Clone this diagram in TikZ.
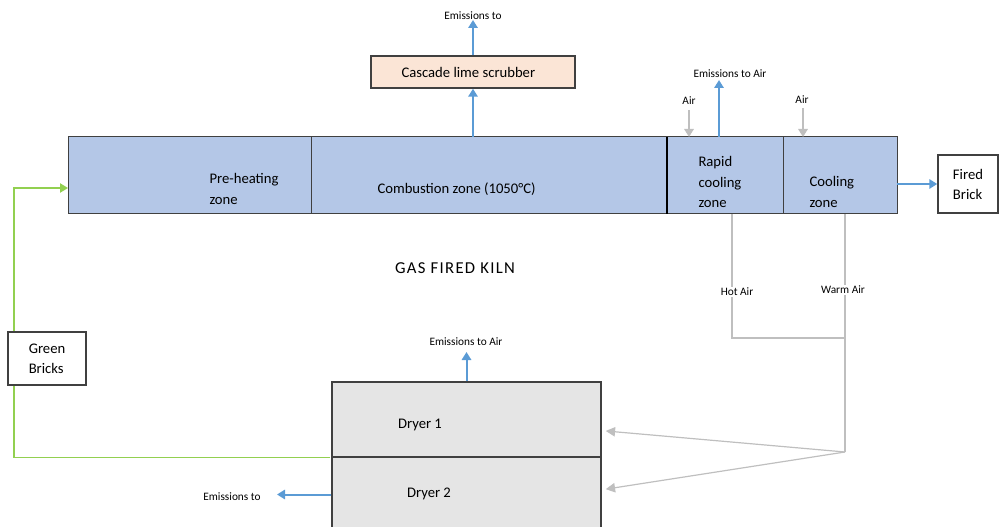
\documentclass[tikz,border=0pt]{standalone}
\usepackage{fontspec}
\setmainfont{Carlito}
\usetikzlibrary{arrows.meta}

\definecolor{kilnblue}{RGB}{180,199,231}
\definecolor{scrubpeach}{RGB}{251,229,214}
\definecolor{dryergray}{RGB}{229,229,229}
\definecolor{emitblue}{RGB}{91,155,213}
\definecolor{airgray}{RGB}{191,191,191}
\definecolor{feedgreen}{RGB}{146,208,80}
\definecolor{edgegray}{RGB}{64,64,64}

\tikzset{every picture/.style={line width=0.75pt}}
\tikzset{
  zone/.style={draw=edgegray, fill=kilnblue, minimum height=57.75pt, inner sep=0pt, outer sep=0pt},
  procbox/.style={draw=edgegray, line width=1.1pt, inner sep=0.75pt, align=left, font=\fontsize{11}{15}\selectfont},
  zonetext/.style={inner sep=0.75pt, anchor=west, align=left, font=\fontsize{11}{15.5}\selectfont},
  smalltext/.style={inner sep=0.75pt, font=\fontsize{8.5}{10}\selectfont},
  emitarrow/.style={draw=emitblue, line width=1.5pt, -{Triangle[length=6pt,width=7pt]}},
  airarrow/.style={draw=airgray, line width=1.5pt, -{Triangle[length=6pt,width=7pt]}},
  airline/.style={draw=airgray, line width=0.9pt},
  feedline/.style={draw=feedgreen, line width=1pt},
}

\begin{document}
\begin{tikzpicture}[x=0.75pt,y=0.75pt,yscale=-1,xscale=1]
	\useasboundingbox (0,0) rectangle (999,527);

	%Kiln zones
	\node [zone, minimum width=182.25pt] (preheat) at (189.5,175.5) {};
	\node [zone, minimum width=267pt] (combust) at (489,175.5) {};
	\node [zone, minimum width=87pt] (rapid) at (725,175.5) {};
	\node [zone, minimum width=85.5pt] (cool) at (840,175.5) {};
	\draw [line width=1.6pt, draw=black] (rapid.north west) -- (rapid.south west) ;

	% Text Node
	\node [zonetext] (preheattxt) at (208,189) {Pre-heating\\zone};
	% Text Node
	\node [zonetext] (combusttxt) at (376,189) {Combustion zone (1050°C)};
	% Text Node
	\node [zonetext] (rapidtxt) at (697,182) {Rapid\\cooling\\zone};
	% Text Node
	\node [zonetext] (cooltxt) at (808,192) {Cooling\\zone};
	% Text Node
	\node [inner sep=0.75pt, font=\fontsize{12.5}{14}\selectfont\addfontfeature{LetterSpace=8}] (kilntxt) at (455,268) {GAS FIRED KILN};

	%Scrubber and end boxes
	\node [procbox, fill=scrubpeach, minimum width=153pt, minimum height=24pt] (scrub) at (473,72) {Cascade lime scrubber\hspace{7pt}};
	\node [procbox, fill=white, minimum width=45pt, minimum height=43.5pt] (fired) at (968,184) {Fired\\Brick};

	%Dryers
	\node [procbox, fill=dryergray, minimum width=201.75pt, minimum height=56.25pt] (dryer1) at (466.5,419.5) {};
	\node [procbox, fill=dryergray, minimum width=201.75pt, minimum height=56.25pt] (dryer2) at (466.5,494.5) {};
	% Text Node
	\node [zonetext, anchor=center] (dryer1txt) at (420,425) {Dryer 1};
	% Text Node
	\node [zonetext, anchor=center] (dryer2txt) at (429,494) {Dryer 2};

	%Green brick feed
	\coordinate (feedturn) at (14,188);
	\draw [feedline, -{Triangle[length=6pt,width=7pt]}] ([xshift=-0.6pt]dryer1.south west) -| (feedturn) -- (feedturn -| preheat.west) ;
	\node [procbox, fill=white, minimum width=58.5pt, minimum height=39.75pt] (green) at (47,358.5) {Green\\Bricks};

	%Emissions
	\coordinate (scrubout) at (473,20);
	\draw [emitarrow] (scrub.south |- combust.north) -- (scrub.south) ;
	\draw [emitarrow] (scrub.north) -- (scrubout) ;
	\node [smalltext] (scrubemit) at (473,16) {Emissions to};

	\coordinate (rapidout) at (719,80);
	\draw [emitarrow] (rapidout |- rapid.north) -- (rapidout) ;
	\node [smalltext] (rapidemit) at (730,74) {Emissions to Air};

	\coordinate (dryerout) at (466.5,352);
	\draw [emitarrow] (dryer1.north) -- (dryerout) ;
	\node [smalltext] (dryeremit) at (466,342) {Emissions to Air};

	\coordinate (sideout) at (277,494.5);
	\draw [emitarrow] (dryer2.west) -- (sideout) ;
	\node [smalltext] (sideemit) at (232,497) {Emissions to};

	\draw [emitarrow] (fired.west -| cool.east) -- (fired.west) ;

	%Air in
	\coordinate (airin1) at (689,110);
	\coordinate (airin2) at (803,108);
	\draw [airarrow] (airin1) -- (airin1 |- rapid.north) ;
	\draw [airarrow] (airin2) -- (airin2 |- cool.north) ;
	\node [smalltext] (air1txt) at (689,101) {Air};
	\node [smalltext] (air2txt) at (802,100) {Air};

	%Hot and warm air to dryers
	\coordinate (hotdown) at (732,338);
	\coordinate (junction) at (845,452);
	\draw [airline] (hotdown |- rapid.south) -- (hotdown) -- (hotdown -| junction) ;
	\draw [airline] (junction |- cool.south) -- (junction) ;
	\draw [airline, -{Triangle[length=7pt,width=7pt]}] (junction) -- ([xshift=3pt,yshift=8.6pt]dryer1.east) ;
	\draw [airline, -{Triangle[length=7pt,width=7pt]}] (junction) -- ([xshift=3pt,yshift=-4pt]dryer2.east) ;
	\node [smalltext, fill=white] (hottxt) at (737,292) {Hot Air};
	\node [smalltext, fill=white] (warmtxt) at (843,290) {Warm Air};

\end{tikzpicture}
\end{document}
